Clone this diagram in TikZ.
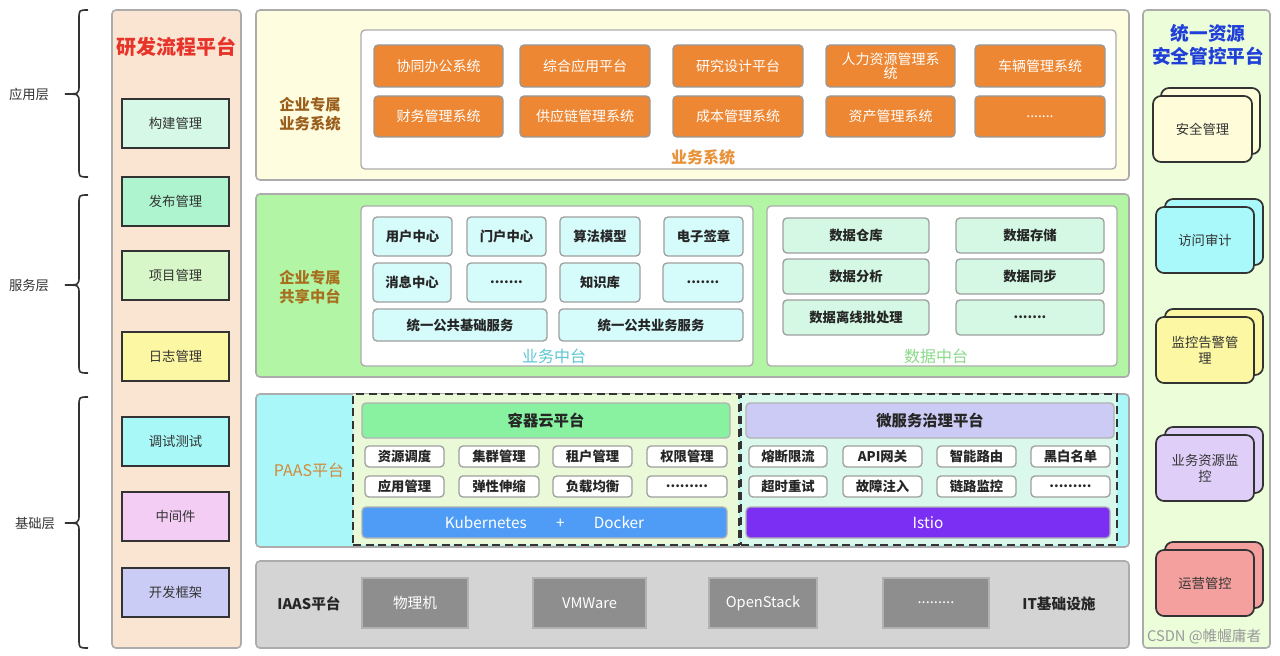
\documentclass[tikz,border=0pt]{standalone}
\usepackage{fontspec}
\setmainfont{Noto Sans CJK SC}
\definecolor{peach}{HTML}{FAE5D2}
\definecolor{topy}{HTML}{FFFDE0}
\definecolor{orangeC}{HTML}{EE8733}
\definecolor{midg}{HTML}{B2F5A5}
\definecolor{lcyan}{HTML}{D6FBFB}
\definecolor{mint}{HTML}{D4F8E4}
\definecolor{paasc}{HTML}{AAF7FA}
\definecolor{dfill1}{HTML}{EAF9D7}
\definecolor{dfill2}{HTML}{DAF8EC}
\definecolor{hgreen}{HTML}{88F2A0}
\definecolor{hlav}{HTML}{CCCBF6}
\definecolor{kblue}{HTML}{4E9CF5}
\definecolor{ipurp}{HTML}{7B2FF2}
\definecolor{iaasg}{HTML}{D4D4D4}
\definecolor{iaasb}{HTML}{8E8E8E}
\definecolor{rcol}{HTML}{EBFDD9}
\definecolor{tred}{HTML}{E8332A}
\definecolor{tblue}{HTML}{1F3FD8}
\definecolor{lbrown}{HTML}{9A5E1C}
\definecolor{lolive}{HTML}{A8701E}
\definecolor{paasl}{HTML}{D08A3A}
\definecolor{ywtxt}{HTML}{E8923A}
\definecolor{ywzt}{HTML}{5CC6D2}
\definecolor{sjzt}{HTML}{8BD98A}
\definecolor{c1}{HTML}{D5F8E7}
\definecolor{c2}{HTML}{AEF5CF}
\definecolor{c3}{HTML}{D8F7C8}
\definecolor{c4}{HTML}{FCF7A3}
\definecolor{c5}{HTML}{A9F8F8}
\definecolor{c6}{HTML}{F4CDF5}
\definecolor{c7}{HTML}{CBCCF5}
\definecolor{r1}{HTML}{FFFDD9}
\definecolor{r2}{HTML}{A9F8FA}
\definecolor{r3}{HTML}{FCF7A3}
\definecolor{r4}{HTML}{DFCFF8}
\definecolor{r5}{HTML}{F4A09E}
\newcommand\fs[1]{\fontsize{#1}{\dimexpr #1pt*6/5\relax}\selectfont}
\newcommand\bx[7]{%
  \pgfmathsetmacro\bxw{abs(#4-#2)*0.75}%
  \pgfmathsetmacro\bxh{abs(#5-#3)*0.75}%
  \node[#6, minimum width=\bxw pt, minimum height=\bxh pt, inner sep=0pt, outer sep=0pt] (#1) at ({(#2+#4)/2},{(#3+#5)/2}) {#7};}
\tikzset{
  band/.style={draw=gray!65, line width=1.2pt, rounded corners=3pt},
  inner/.style={draw=gray!65, fill=white, line width=1pt, rounded corners=3pt},
  lbox/.style={draw=black!80, line width=1.3pt, text=black!80, font=\fs{10}},
  obox/.style={draw=gray!80, fill=orangeC, line width=1pt, rounded corners=3pt, text=white, font=\fs{10.5}, align=center},
  cbox/.style={draw=gray!75, fill=lcyan, line width=1pt, rounded corners=3pt, text=black!85, font=\bfseries\fs{10}},
  mbox/.style={draw=gray!75, fill=mint, line width=1pt, rounded corners=3pt, text=black!85, font=\bfseries\fs{10}},
  sbox/.style={draw=gray!75, fill=white, line width=1pt, rounded corners=3pt, text=black!85, font=\bfseries\fs{10}},
  hbox/.style={draw=gray!60, line width=1pt, rounded corners=3pt, text=black!85, font=\bfseries\fs{11.5}},
  bar/.style={draw=gray!60, line width=1pt, rounded corners=3pt, text=white, font=\fs{11.5}},
  dbox/.style={draw=black!80, line width=1.3pt, dash pattern=on 6pt off 3.5pt},
  gbox/.style={draw=gray!60, fill=iaasb, line width=1pt, text=white, font=\fs{11}},
  card/.style={draw=black!80, line width=1.3pt, rounded corners=6pt},
  cardt/.style={text=black!80, font=\fs{10}, align=center},
  layer/.style={text=black!80, font=\fs{10}},
  brc/.style={draw=black!80, line width=1.2pt},
  lab/.style={font=\bfseries\fs{11.5}, align=center},
}
\begin{document}
\begin{tikzpicture}[x=0.75pt,y=-0.75pt]
\useasboundingbox (0,0) rectangle (1280,656);
\fill[white] (0,0) rectangle (1280,656);
% braces
\draw[brc] (88,10) .. controls (79,10) .. (79,19) -- (79,85) .. controls (79,94) .. (65,94) .. controls (79,94) .. (79,103) -- (79,168) .. controls (79,177) .. (88,177);
\draw[brc] (88,195) .. controls (79,195) .. (79,204) -- (79,276) .. controls (79,285) .. (65,285) .. controls (79,285) .. (79,294) -- (79,364) .. controls (79,373) .. (88,373);
\draw[brc] (88,397) .. controls (79,397) .. (79,406) -- (79,514) .. controls (79,523) .. (65,523) .. controls (79,523) .. (79,532) -- (79,639) .. controls (79,648) .. (88,648);
\node[layer] (ly1) at (29,94) {应用层};
\node[layer] (ly2) at (29,285) {服务层};
\node[layer] (ly3) at (35,523) {基础层};
% left column
\bx{lcol}{112}{10}{241}{648}{band, fill=peach}{}
\node[text=tred, font=\bfseries\fs{15}] (ltitle) at (176,47) {研发流程平台};
\bx{lb1}{122}{99}{229}{148}{lbox, fill=c1}{构建管理}
\bx{lb2}{122}{177}{229}{226}{lbox, fill=c2}{发布管理}
\bx{lb3}{122}{251}{229}{300}{lbox, fill=c3}{项目管理}
\bx{lb4}{122}{332}{229}{381}{lbox, fill=c4}{日志管理}
\bx{lb5}{122}{417}{229}{466}{lbox, fill=c5}{调试测试}
\bx{lb6}{122}{492}{229}{541}{lbox, fill=c6}{中间件}
\bx{lb7}{122}{568}{229}{617}{lbox, fill=c7}{开发框架}
% top band
\bx{top}{256}{10}{1129}{180}{band, fill=topy}{}
\node[lab, text=lbrown] (toplab) at (310,114) {企业专属\\业务系统};
\bx{topin}{361}{30}{1116}{169}{inner}{}
\bx{o11}{374}{45}{503}{87}{obox}{协同办公系统}
\bx{o12}{520}{45}{650}{87}{obox}{综合应用平台}
\bx{o13}{673}{45}{803}{87}{obox}{研究设计平台}
\bx{o14}{826}{45}{955}{87}{obox}{人力资源管理系\\[-2pt]统}
\bx{o15}{975}{45}{1105}{87}{obox}{车辆管理系统}
\bx{o21}{374}{96}{503}{137}{obox}{财务管理系统}
\bx{o22}{520}{96}{650}{137}{obox}{供应链管理系统}
\bx{o23}{673}{96}{803}{137}{obox}{成本管理系统}
\bx{o24}{826}{96}{955}{137}{obox}{资产管理系统}
\bx{o25}{975}{96}{1105}{137}{obox}{.......}
\node[text=ywtxt, font=\bfseries\fs{12}] (ywxt) at (703,157) {业务系统};
% middle band
\bx{mid}{256}{194}{1129}{377}{band, fill=midg}{}
\node[lab, text=lolive] (midlab) at (310,287) {企业专属\\共享中台};
\bx{midin1}{361}{206}{753}{366}{inner}{}
\bx{m11}{373}{217}{452}{256}{cbox}{用户中心}
\bx{m12}{467}{217}{546}{256}{cbox}{门户中心}
\bx{m13}{560}{217}{640}{256}{cbox}{算法模型}
\bx{m14}{664}{217}{743}{256}{cbox}{电子签章}
\bx{m21}{373}{263}{451}{302}{cbox}{消息中心}
\bx{m22}{467}{263}{546}{302}{cbox}{.......}
\bx{m23}{560}{263}{640}{302}{cbox}{知识库}
\bx{m24}{663}{263}{743}{302}{cbox}{.......}
\bx{m31}{373}{309}{547}{341}{cbox}{统一公共基础服务}
\bx{m32}{559}{309}{743}{341}{cbox}{统一公共业务服务}
\node[text=ywzt, font=\fs{12}] (ywztl) at (554,356) {业务中台};
\bx{midin2}{767}{206}{1117}{366}{inner}{}
\bx{d11}{783}{218}{929}{253}{mbox}{数据仓库}
\bx{d12}{956}{218}{1104}{253}{mbox}{数据存储}
\bx{d21}{783}{259}{929}{294}{mbox}{数据分析}
\bx{d22}{956}{259}{1104}{294}{mbox}{数据同步}
\bx{d31}{783}{300}{929}{335}{mbox}{数据离线批处理}
\bx{d32}{956}{300}{1104}{335}{mbox}{.......}
\node[text=sjzt, font=\fs{12}] (sjztl) at (936,356) {数据中台};
% PAAS band
\bx{paas}{256}{394}{1129}{547}{band, fill=paasc}{}
\node[text=paasl, font=\fs{12}] (paaslab) at (309,470) {PAAS平台};
\bx{dash1}{353}{394}{739}{545}{dbox, fill=dfill1}{}
\bx{dash2}{741}{394}{1117}{545}{dbox, fill=dfill2}{}
\bx{h1}{362}{403}{730}{438}{hbox, fill=hgreen}{容器云平台}
\bx{p11}{365}{446}{444}{467}{sbox}{资源调度}
\bx{p12}{459}{446}{539}{467}{sbox}{集群管理}
\bx{p13}{553}{446}{632}{467}{sbox}{租户管理}
\bx{p14}{647}{446}{727}{467}{sbox}{权限管理}
\bx{p21}{365}{476}{444}{497}{sbox}{应用管理}
\bx{p22}{459}{476}{539}{497}{sbox}{弹性伸缩}
\bx{p23}{553}{476}{632}{497}{sbox}{负载均衡}
\bx{p24}{647}{476}{727}{497}{sbox}{.........}
\bx{kb}{362}{507}{727}{538}{bar, fill=kblue}{Kubernetes\hspace{22pt}+\hspace{22pt}Docker}
\bx{h2}{746}{403}{1114}{438}{hbox, fill=hlav}{微服务治理平台}
\bx{q11}{749}{446}{827}{467}{sbox}{熔断限流}
\bx{q12}{843}{446}{922}{467}{sbox}{API网关}
\bx{q13}{937}{446}{1016}{467}{sbox}{智能路由}
\bx{q14}{1031}{446}{1110}{467}{sbox}{黑白名单}
\bx{q21}{749}{476}{827}{497}{sbox}{超时重试}
\bx{q22}{843}{476}{922}{497}{sbox}{故障注入}
\bx{q23}{937}{476}{1016}{497}{sbox}{链路监控}
\bx{q24}{1031}{476}{1110}{497}{sbox}{.........}
\bx{ist}{746}{507}{1110}{538}{bar, fill=ipurp}{Istio}
% IAAS band
\bx{iaas}{256}{561}{1129}{648}{band, fill=iaasg}{}
\node[text=black!85, font=\bfseries\fs{11}] (iaaslab) at (309,604) {IAAS平台};
\bx{g1}{362}{578}{468}{628}{gbox}{物理机}
\bx{g2}{533}{578}{646}{628}{gbox}{VMWare}
\bx{g3}{709}{578}{817}{628}{gbox}{OpenStack}
\bx{g4}{883}{578}{989}{628}{gbox}{.........}
\node[text=black!85, font=\bfseries\fs{11}] (itlab) at (1059,604) {IT基础设施};
% right column
\bx{rcolb}{1143}{10}{1270}{648}{band, fill=rcol}{}
\node[text=tblue, font=\bfseries\fs{14}, align=center] (rtitle) at (1208,45) {统一资源\\安全管控平台};
\bx{rb1}{1161}{88}{1260}{154}{card, fill=r1}{}
\bx{rf1}{1153}{96}{1252}{162}{card, fill=r1, cardt}{安全管理}
\bx{rb2}{1165}{199}{1263}{265}{card, fill=r2}{}
\bx{rf2}{1156}{207}{1254}{273}{card, fill=r2, cardt}{访问审计}
\bx{rb3}{1165}{309}{1263}{375}{card, fill=r3}{}
\bx{rf3}{1156}{317}{1254}{383}{card, fill=r3, cardt}{监控告警管\\理}
\bx{rb4}{1165}{427}{1263}{493}{card, fill=r4}{}
\bx{rf4}{1156}{435}{1254}{501}{card, fill=r4, cardt}{业务资源监\\控}
\bx{rb5}{1165}{542}{1263}{608}{card, fill=r5}{}
\bx{rf5}{1156}{550}{1254}{616}{card, fill=r5, cardt}{运营管控}
\node[anchor=east, text=gray!80, font=\fs{11}] (wm) at (1266,637) {CSDN @帷幄庸者};
\end{tikzpicture}
\end{document}
